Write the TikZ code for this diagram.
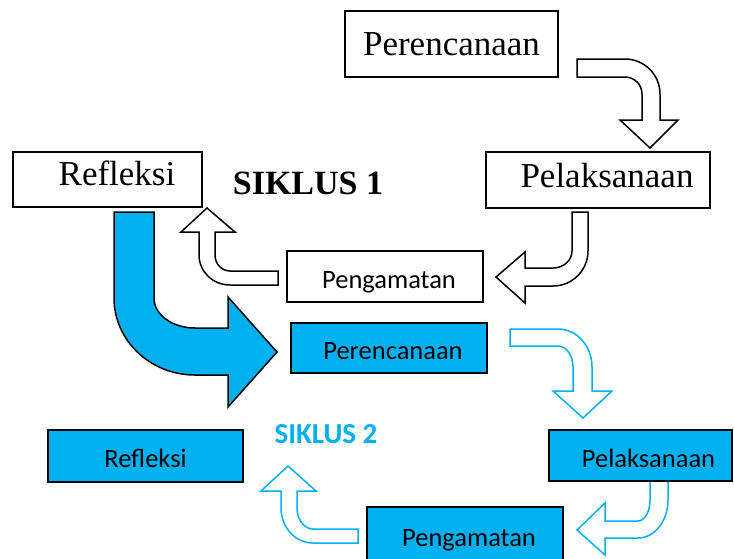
\documentclass[tikz,border=0pt]{standalone}
\usepackage{fontspec}
\setmainfont{Liberation Serif}
\newfontfamily\carlito{Carlito}
\definecolor{cyanA}{RGB}{0,176,240}
\begin{document}
\begin{tikzpicture}[x=1pt,y=-1pt,
  serifbox/.style={draw=black,line width=1.8pt,fill=white,inner sep=0pt,text depth=0pt,font=\fontsize{35}{40}\selectfont},
  sansbox/.style={draw=black,line width=1.8pt,fill=cyanA,inner sep=0pt,text height=23pt,text depth=0pt,font=\carlito\fontsize{26.5}{30}\selectfont},
  blackarrow/.style={draw=black,line width=1.5pt,fill=white,line join=miter},
  cyanarrow/.style={draw=cyanA,line width=1.5pt,fill=white,line join=miter},
  bigarrow/.style={draw=black,line width=1.5pt,fill=cyanA,line join=miter}]
\useasboundingbox (0,0) rectangle (734,558);

% block arrows, cycle 1
\path[blackarrow] (577,59) -- (625,59) .. controls (644.3,59) and (660,74.7) .. (660,94)
  -- (660,120) -- (678,120) -- (650,148) -- (620,120) -- (642,120) -- (642,94)
  .. controls (642,84.6) and (634.4,77) .. (625,77) -- (577,77) -- cycle;
\path[blackarrow] (572,212) -- (588,212) -- (588,251) .. controls (588,270.3) and (572.3,286) .. (553,286)
  -- (525,286) -- (525,303) -- (496,277) -- (525,252) -- (525,268) -- (553,268)
  .. controls (563.5,268) and (572,260.4) .. (572,251) -- cycle;
\path[blackarrow] (278,271) -- (278,285) -- (230,285) .. controls (212.9,285) and (199,271.6) .. (199,255)
  -- (199,232) -- (181,232) -- (207,208) -- (235,232) -- (215,232) -- (215,255)
  .. controls (215,263.8) and (221.7,271) .. (230,271) -- cycle;
% big arrow between cycles
\path[bigarrow] (114,212) -- (154,212) -- (154,298) .. controls (154,314.6) and (172.4,328) .. (195,328)
  -- (228,328) -- (228,297) -- (277,352) -- (228,407) -- (228,375) -- (195,375)
  .. controls (150.3,375) and (114,340.5) .. (114,298) -- cycle;
% block arrows, cycle 2
\path[cyanarrow] (510,329) -- (558,329) .. controls (576.8,329) and (592,346) .. (592,367)
  -- (592,391) -- (612,391) -- (583,418) -- (553,391) -- (573,391) -- (573,367)
  .. controls (573,355.4) and (566.3,346) .. (558,346) -- (510,346) -- cycle;
\path[cyanarrow] (650,478) -- (668,478) -- (668,500) .. controls (668,521) and (654.6,538) .. (638,538)
  -- (605,538) -- (605,555) -- (577,530) -- (605,503) -- (605,521) -- (638,521)
  .. controls (644.6,521) and (650,511.6) .. (650,500) -- cycle;
\path[cyanarrow] (358,529) -- (358,543) -- (313,543) .. controls (295.3,543) and (281,527.3) .. (281,508)
  -- (281,491) -- (261,491) -- (288,466) -- (316,491) -- (297,491) -- (297,508)
  .. controls (297,519.6) and (304.2,529) .. (313,529) -- cycle;

% boxes, cycle 1
\node[serifbox,text height=22pt,minimum width=213pt,minimum height=66pt] (per1) at (451.5,44) {Perencanaan};
\node[serifbox,text height=14pt,minimum width=224pt,minimum height=56pt] (pel1) at (598,180) {\hspace*{18pt}Pelaksanaan};
\node[serifbox,text height=11pt,minimum width=189pt,minimum height=55pt] (ref1) at (107.5,179.5) {\hspace*{19pt}Refleksi};
\node[inner sep=0pt,font=\bfseries\fontsize{34}{38}\selectfont] (s1) at (308,183) {SIKLUS 1};
\node[sansbox,fill=white,minimum width=196pt,minimum height=51pt] (pen1) at (385,276.5) {\hspace*{8pt}Pengamatan};
% boxes, cycle 2
\node[sansbox,minimum width=196pt,minimum height=50pt] (per2) at (389,348) {\hspace*{8pt}Perencanaan};
\node[sansbox,minimum width=195pt,minimum height=52pt] (ref2) at (145.5,456) {Refleksi};
\node[inner sep=0pt,text=cyanA,font=\carlito\bfseries\fontsize{29}{32}\selectfont] (s2) at (326,434) {SIKLUS 2};
\node[sansbox,minimum width=183pt,minimum height=51pt] (pel2) at (640.5,455.5) {\hspace*{16pt}Pelaksanaan};
\node[sansbox,minimum width=196pt,minimum height=55pt] (pen2) at (465,534.5) {\hspace*{8pt}Pengamatan};
\end{tikzpicture}
\end{document}
